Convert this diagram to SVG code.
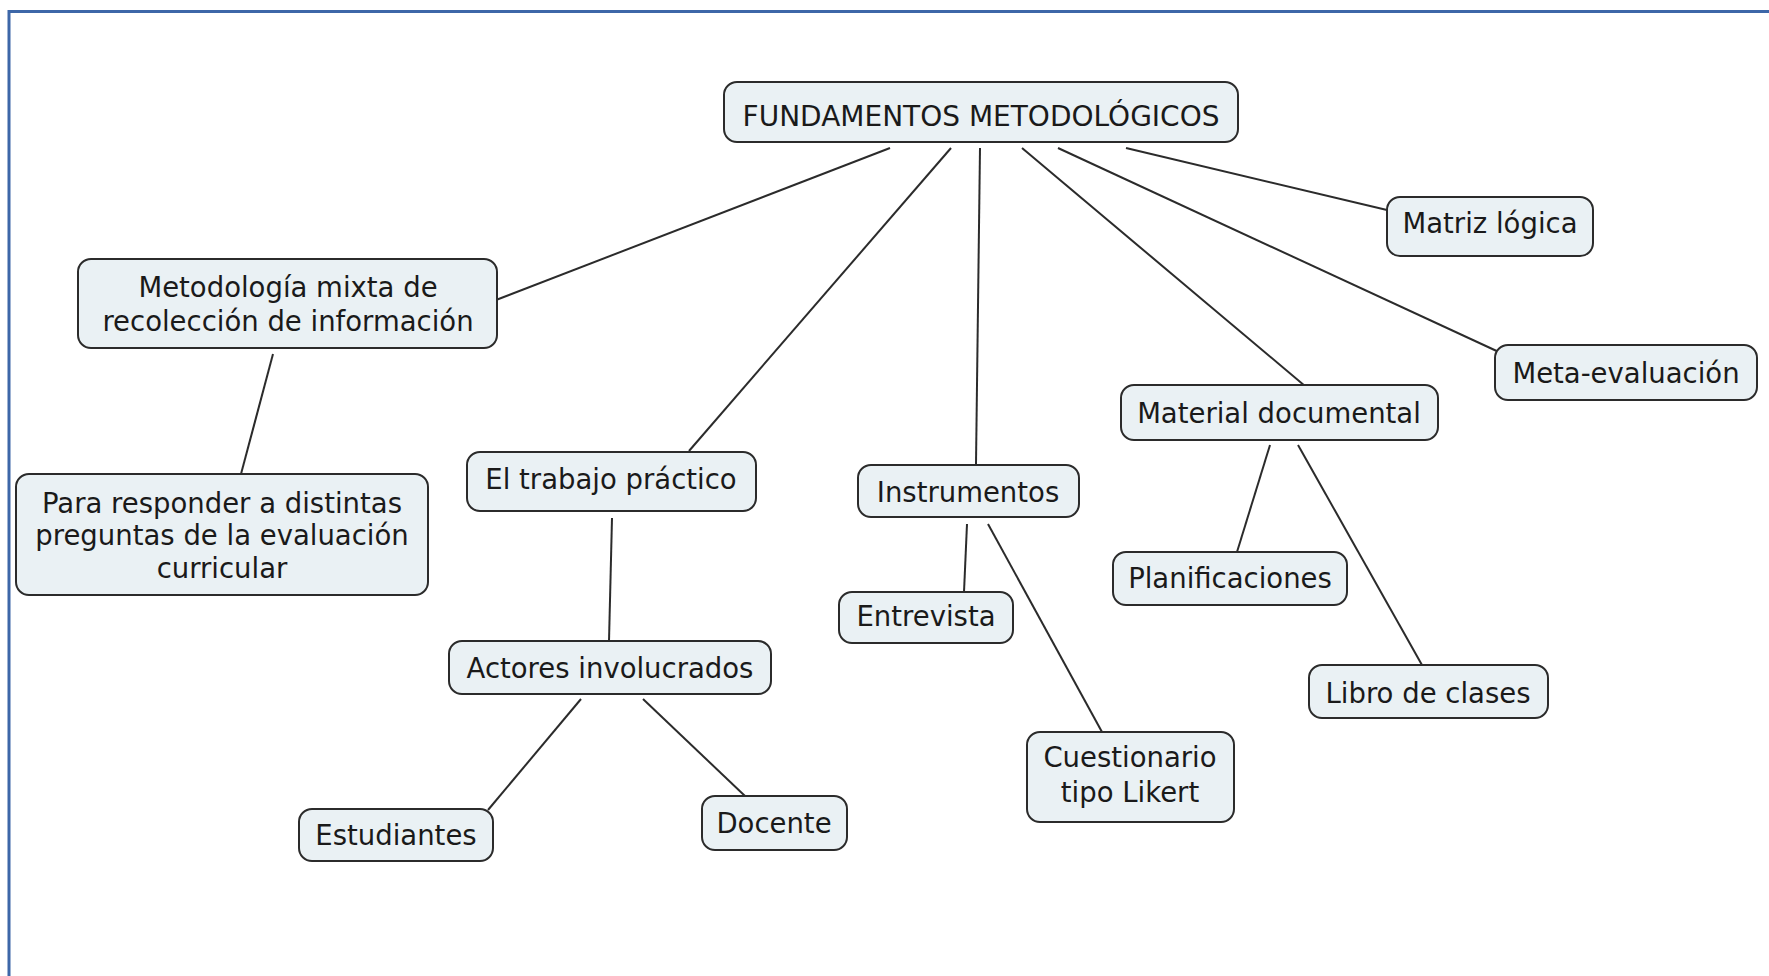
<svg xmlns="http://www.w3.org/2000/svg" width="1769" height="976" viewBox="0 0 1769 976">
<style>
.n rect{fill:#eaf1f4;stroke:#2b2b2b;stroke-width:2}
.n text{font-family:"DejaVu Sans",Verdana,sans-serif;font-size:27.5px;fill:#1a1a1a;text-anchor:middle}
#connectors line{stroke:#2b2b2b;stroke-width:2}
</style>
<rect width="1769" height="976" fill="#ffffff"/>
<rect x="9" y="11.5" width="1800" height="1000" fill="none" stroke="#3d67a8" stroke-width="3"/>
<g id="connectors">
<line x1="890" y1="148" x2="496" y2="300"/>
<line x1="951" y1="148" x2="689" y2="451"/>
<line x1="980" y1="148" x2="976" y2="464"/>
<line x1="1022" y1="148" x2="1305" y2="386"/>
<line x1="1058" y1="148" x2="1501" y2="353"/>
<line x1="1126" y1="148" x2="1387" y2="210"/>
<line x1="273" y1="354" x2="241" y2="474"/>
<line x1="612" y1="518" x2="609" y2="641"/>
<line x1="581" y1="699" x2="488" y2="810"/>
<line x1="643" y1="699" x2="745" y2="796"/>
<line x1="967" y1="524" x2="964" y2="592"/>
<line x1="988" y1="524" x2="1102" y2="732"/>
<line x1="1270" y1="445" x2="1237" y2="552"/>
<line x1="1298" y1="445" x2="1422" y2="665"/>
</g>
<g id="root" class="n"><rect x="724" y="82" width="514" height="60" rx="13"/><text x="981" y="126" style="font-size:28px">FUNDAMENTOS METODOLÓGICOS</text></g>
<g id="metodologia" class="n"><rect x="78" y="259" width="419" height="89" rx="13"/><text x="288" y="297">Metodología mixta de</text><text x="288" y="331">recolección de información</text></g>
<g id="para" class="n"><rect x="16" y="474" width="412" height="121" rx="13"/><text x="222" y="513">Para responder a distintas</text><text x="222" y="545">preguntas de la evaluación</text><text x="222" y="578">curricular</text></g>
<g id="trabajo" class="n"><rect x="467" y="452" width="289" height="59" rx="13"/><text x="611" y="489">El trabajo práctico</text></g>
<g id="actores" class="n"><rect x="449" y="641" width="322" height="53" rx="13"/><text x="610" y="678">Actores involucrados</text></g>
<g id="estudiantes" class="n"><rect x="299" y="809" width="194" height="52" rx="13"/><text x="396" y="845">Estudiantes</text></g>
<g id="docente" class="n"><rect x="702" y="796" width="145" height="54" rx="13"/><text x="774" y="833">Docente</text></g>
<g id="instrumentos" class="n"><rect x="858" y="465" width="221" height="52" rx="13"/><text x="968" y="502">Instrumentos</text></g>
<g id="entrevista" class="n"><rect x="839" y="592" width="174" height="51" rx="13"/><text x="926" y="626">Entrevista</text></g>
<g id="cuestionario" class="n"><rect x="1027" y="732" width="207" height="90" rx="13"/><text x="1130" y="767">Cuestionario</text><text x="1130" y="802">tipo Likert</text></g>
<g id="material" class="n"><rect x="1121" y="385" width="317" height="55" rx="13"/><text x="1279" y="423">Material documental</text></g>
<g id="planificaciones" class="n"><rect x="1113" y="552" width="234" height="53" rx="13"/><text x="1230" y="588">Planificaciones</text></g>
<g id="libro" class="n"><rect x="1309" y="665" width="239" height="53" rx="13"/><text x="1428" y="703">Libro de clases</text></g>
<g id="matriz" class="n"><rect x="1387" y="197" width="206" height="59" rx="13"/><text x="1490" y="233">Matriz lógica</text></g>
<g id="meta" class="n"><rect x="1495" y="345" width="262" height="55" rx="13"/><text x="1626" y="383">Meta-evaluación</text></g>
</svg>
